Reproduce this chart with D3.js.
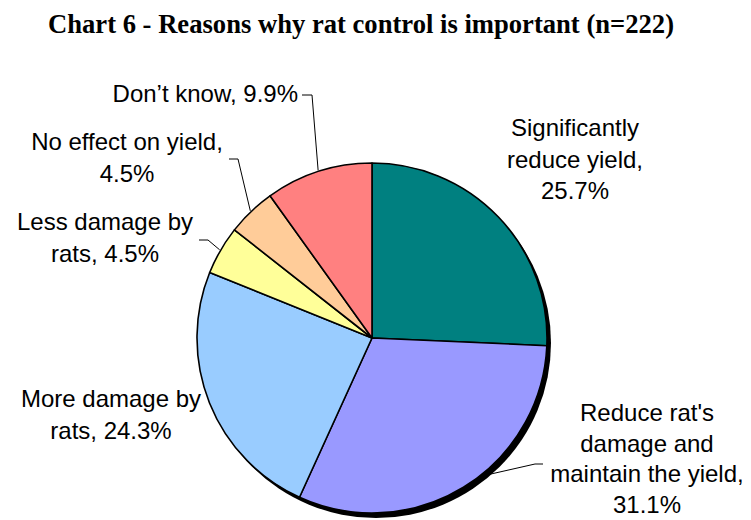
<!DOCTYPE html>
<html>
<head>
<meta charset="utf-8">
<script src="https://cdn.jsdelivr.net/npm/d3@7"></script>
<style>
  html, body { margin: 0; padding: 0; background: #fff; }
  svg { display: block; }
</style>
</head>
<body>
<svg id="chart" width="751" height="520"></svg>
<script>
const titleText = "Chart 6 - Reasons why rat control is important (n=222)";
const categories = [
  "Significantly reduce yield",
  "Reduce rat's damage and maintain the yield",
  "More damage by rats",
  "Less damage by rats",
  "No effect on yield",
  "Don\u2019t know"
];
const values = [25.7, 31.1, 24.3, 4.5, 4.5, 9.9];
const labelLines = [
  ["Significantly", "reduce yield,", "25.7%"],
  ["Reduce rat's", "damage and", "maintain the yield,", "31.1%"],
  ["More damage by", "rats, 24.3%"],
  ["Less damage by", "rats, 4.5%"],
  ["No effect on yield,", "4.5%"],
  ["Don\u2019t know, 9.9%"]
];
const colors = ["#008080", "#9999FF", "#99CCFF", "#FFFF99", "#FFCC99", "#FF8080"];

// layout (positions of label blocks & leader lines)
const cx = 372, cy = 338, R = 175;
const labelLayout = [
  { x: 575, y: 136, gap: 31.5, anchor: "middle", leader: null },
  { x: 647, y: 421, gap: 30.5, anchor: "middle", leader: [[543, 464], [535, 464]], frac: 0.44 },
  { x: 111, y: 407, gap: 31.5, anchor: "middle", leader: null },
  { x: 105, y: 230, gap: 31.5, anchor: "middle", leader: [[199, 240], [208, 240]], frac: 0.5 },
  { x: 127, y: 150, gap: 31.5, anchor: "middle", leader: [[229, 159], [238, 159]], frac: 0.5 },
  { x: 298, y: 102, gap: 31.5, anchor: "end", leader: [[302, 95], [312, 95]], frac: 0.5 }
];

const svg = d3.select("#chart");

svg.append("text")
  .attr("x", 361).attr("y", 33)
  .attr("text-anchor", "middle")
  .attr("font-family", "'Liberation Serif', 'Times New Roman', serif")
  .attr("font-weight", "bold")
  .attr("font-size", 27)
  .attr("textLength", 626)
  .attr("lengthAdjust", "spacingAndGlyphs")
  .attr("fill", "#000")
  .text(titleText);

const pie = d3.pie().sort(null).value(d => d)(values);
const arc = d3.arc().innerRadius(0).outerRadius(R);

const g = svg.append("g").attr("transform", `translate(${cx},${cy})`);

// shadow
g.append("circle").attr("cx", 4).attr("cy", 5).attr("r", R).attr("fill", "#000");

g.selectAll("path.slice")
  .data(pie)
  .join("path")
  .attr("class", "slice")
  .attr("d", arc)
  .attr("fill", (d, i) => colors[i])
  .attr("stroke", "#000")
  .attr("stroke-width", 1.6)
  .attr("stroke-linejoin", "round");

// leader lines
pie.forEach((d, i) => {
  const L = labelLayout[i];
  if (!L.leader) return;
  const a = d.startAngle + (d.endAngle - d.startAngle) * L.frac;
  const px = cx + (R + 1) * Math.sin(a);
  const py = cy - (R + 1) * Math.cos(a);
  const pts = L.leader.concat([[px, py]]);
  svg.append("path")
    .attr("d", d3.line()(pts))
    .attr("fill", "none")
    .attr("stroke", "#000")
    .attr("stroke-width", 1);
});

// labels
labelLines.forEach((lines, i) => {
  const L = labelLayout[i];
  const t = svg.append("text")
    .attr("font-family", "'Liberation Sans', Arial, sans-serif")
    .attr("font-size", 24)
    .attr("fill", "#000")
    .attr("text-anchor", L.anchor);
  lines.forEach((ln, j) => {
    t.append("tspan").attr("x", L.x).attr("y", L.y + j * L.gap).text(ln);
  });
});
</script>
</body>
</html>
